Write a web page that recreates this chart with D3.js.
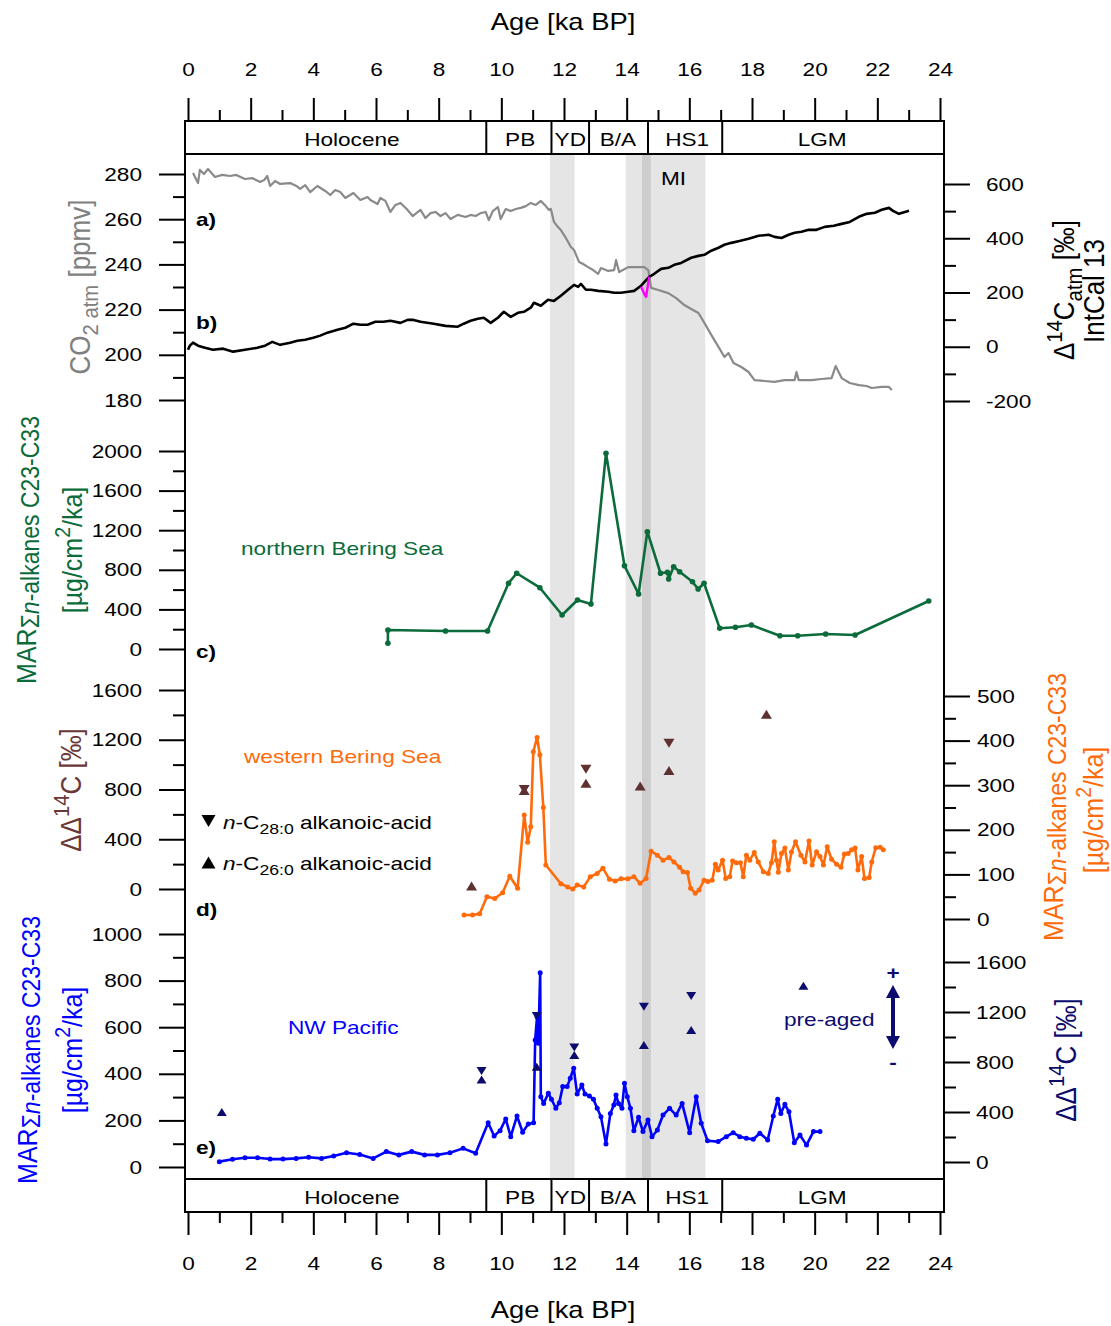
<!DOCTYPE html>
<html>
<head>
<meta charset="utf-8">
<script src="https://cdn.jsdelivr.net/npm/d3@7"></script>
<style>
	body { margin: 0; background: #fff; }
	svg { display: block; font-family: "Liberation Sans", Arial, sans-serif; }
</style>
</head>
<body>
<div id="chart"></div>
<script>
// ---- data (age in ka BP, value) ----
const co2 = [[0.16,280.4],[0.32,276],[0.38,281.8],[0.51,280],[0.64,282.2],[0.86,278.7],[1.09,279.6],[1.34,279.1],[1.54,279.6],[1.82,277.8],[2.05,278.2],[2.3,276.5],[2.43,277.3],[2.53,279.1],[2.62,274.7],[2.78,276.9],[2.94,275.6],[3.26,276],[3.46,274.7],[3.58,273.4],[3.74,275.1],[3.9,272],[4.13,274.7],[4.38,272.5],[4.54,270.7],[4.7,272.9],[4.86,272],[5.02,269.4],[5.28,271.6],[5.5,268.5],[5.73,269.8],[5.82,268.5],[6.05,266.7],[6.14,269.4],[6.3,268.1],[6.46,263.2],[6.62,266.3],[6.78,267.2],[6.98,264.5],[7.17,261.4],[7.42,264.1],[7.58,260.5],[7.74,262.7],[7.9,263.2],[8.06,261.4],[8.22,262.7],[8.38,260.1],[8.61,261.9],[8.86,261],[9.02,261.9],[9.18,261.4],[9.34,262.7],[9.5,263.2],[9.6,259.6],[9.73,263.6],[9.89,265.4],[9.98,260.1],[10.14,264.5],[10.3,263.6],[10.46,264.5],[10.62,265],[10.78,265.8],[10.94,267.2],[11.1,266.3],[11.26,268.1],[11.42,265.8],[11.52,264.1],[11.58,264.6],[11.68,258.8],[11.78,257],[11.9,255.2],[12.06,251.7],[12.22,247.7],[12.32,246.4],[12.48,241.1],[12.61,240.2],[12.77,238.8],[12.93,237.5],[13.09,235.8],[13.18,238.4],[13.41,237.1],[13.6,237.5],[13.66,241.9],[13.76,236.6],[14.05,238.8],[14.3,238.8],[14.56,238.8],[14.69,237.5],[14.78,229.6],[15.01,228.7],[15.33,227.3],[15.58,225.1],[15.84,222],[16.06,220.3],[16.29,218.5],[16.48,214.1],[16.7,208.8],[16.93,203.5],[17.12,199],[17.25,200.8],[17.41,196.4],[17.66,194.6],[17.89,192.4],[18.08,188.8],[18.4,188.4],[18.72,188],[19.04,188.8],[19.36,188.8],[19.42,192.4],[19.49,188.8],[19.9,188.8],[20.22,189.3],[20.54,189.7],[20.67,195],[20.86,189.7],[21.12,187.5],[21.41,186.6],[21.66,186.2],[21.82,185.3],[22.14,185.8],[22.37,185.8],[22.46,184.4]];

const d14atm = [[0,-11],[0.06,4],[0.16,15],[0.32,4],[0.54,-4],[0.8,-11],[1.12,-7],[1.44,-18],[1.82,-11],[2.21,-4],[2.46,4],[2.69,18],[2.94,7],[3.26,15],[3.49,22],[3.74,26],[4,33],[4.22,41],[4.45,52],[4.77,63],[5.02,70],[5.28,85],[5.5,81],[5.73,81],[5.98,92],[6.24,92],[6.46,96],[6.78,88],[7.01,99],[7.2,99],[7.42,92],[7.84,85],[8.22,77],[8.61,74],[8.8,85],[9.02,96],[9.25,103],[9.44,107],[9.66,88],[9.89,107],[10.08,129],[10.3,110],[10.53,125],[10.72,129],[10.94,144],[11.04,162],[11.26,151],[11.49,173],[11.68,169],[11.9,188],[12.13,210],[12.32,228],[12.45,221],[12.54,232],[12.7,210],[12.86,210],[13.09,206],[13.41,203],[13.6,199],[13.82,199],[14.05,203],[14.24,206],[14.46,225],[14.72,258],[14.88,269],[15.1,287],[15.33,291],[15.52,302],[15.74,309],[16.06,328],[16.29,335],[16.48,339],[16.7,354],[16.93,365],[17.12,376],[17.34,383],[17.6,390],[17.89,398],[18.21,409],[18.53,413],[18.72,405],[18.94,401],[19.17,413],[19.36,420],[19.58,424],[19.81,431],[20.06,431],[20.32,442],[20.61,446],[20.86,453],[21.12,460],[21.41,479],[21.66,490],[21.92,494],[22.14,505],[22.37,512],[22.5,501],[22.69,490],[22.88,497],[23.01,501]];

const d14mi = [[14.46,221],[14.56,195],[14.62,184],[14.72,258]];

const marNorth = [[6.38,58],[6.38,192],[8.22,182],[9.56,182],[10.23,664],[10.49,765],[11.23,619],[11.94,343],[12.43,495],[12.86,455],[13.34,1977],[13.93,841],[14.38,556],[14.66,1185],[15.08,765],[15.3,775],[15.34,707],[15.5,831],[15.69,781],[16.1,680],[16.28,606],[16.47,664],[16.97,209],[17.47,219],[17.98,242],[18.89,134],[19.46,134],[20.35,152],[21.29,141],[23.64,485]];

const marWest = [[8.81,9],[9.08,9],[9.31,12],[9.54,50],[9.79,46],[10.04,59],[10.27,96],[10.52,69],[10.73,233],[10.84,172],[10.94,207],[11.02,375],[11.14,407],[11.23,368],[11.34,250],[11.42,121],[11.9,79],[12.12,72],[12.28,67],[12.42,76],[12.63,72],[12.84,95],[13.06,102],[13.24,114],[13.45,89],[13.63,85],[13.82,90],[14.04,90],[14.23,95],[14.43,80],[14.62,91],[14.78,152],[14.98,143],[15.16,132],[15.35,138],[15.51,128],[15.69,116],[15.8,106],[15.94,104],[16.04,69],[16.19,58],[16.31,65],[16.47,87],[16.59,84],[16.73,87],[16.83,123],[16.92,110],[17.06,132],[17.16,91],[17.29,95],[17.38,130],[17.5,126],[17.63,126],[17.72,95],[17.82,143],[17.93,132],[18.07,149],[18.2,128],[18.36,106],[18.52,102],[18.62,126],[18.71,173],[18.78,132],[18.84,105],[18.94,147],[19.05,159],[19.16,110],[19.26,150],[19.39,173],[19.56,143],[19.69,128],[19.82,175],[19.92,121],[20.06,151],[20.17,140],[20.28,121],[20.4,162],[20.54,134],[20.7,123],[20.84,116],[20.95,146],[21.07,147],[21.18,155],[21.29,159],[21.38,110],[21.5,140],[21.59,91],[21.74,93],[21.82,128],[21.95,160],[22.09,161],[22.19,155]];

const westC28 = [[10.73,800],[12.7,963],[15.35,1172]];
const westC26 = [[9.05,24],[10.73,792],[12.7,850],[14.43,829],[15.35,952],[18.46,1405]];

const marPacific = [[1,23],[1.42,33],[1.82,40],[2.22,40],[2.62,34],[3.03,34],[3.45,37],[3.85,42],[4.26,37],[4.65,47],[5.06,61],[5.48,54],[5.91,37],[6.33,66],[6.73,52],[7.14,66],[7.55,52],[7.96,52],[8.36,61],[8.78,80],[9.18,59],[9.58,190],[9.77,133],[9.96,156],[10.14,206],[10.3,130],[10.5,219],[10.68,149],[10.86,185],[11.03,190],[11.08,545],[11.14,645],[11.18,531],[11.24,834],[11.26,302],[11.35,273],[11.5,316],[11.6,291],[11.74,252],[11.85,276],[11.96,345],[12.1,345],[12.2,381],[12.31,424],[12.42,313],[12.57,352],[12.67,313],[12.81,305],[12.94,291],[13.06,252],[13.18,216],[13.34,99],[13.48,230],[13.59,266],[13.66,309],[13.74,273],[13.85,252],[13.93,359],[14.02,302],[14.12,252],[14.23,156],[14.38,213],[14.52,152],[14.68,202],[14.81,130],[14.98,159],[15.16,223],[15.37,252],[15.58,223],[15.77,273],[16.01,147],[16.22,302],[16.38,188],[16.58,113],[16.92,109],[17.18,130],[17.4,147],[17.61,130],[17.82,123],[18.04,119],[18.25,145],[18.5,116],[18.68,219],[18.82,291],[18.92,230],[19.05,269],[19.18,237],[19.35,104],[19.53,137],[19.74,94],[19.96,152],[20.17,152]];

const pacC28 = [[9.37,728],[11.13,1168],[12.33,916],[14.55,1243],[16.06,1328]];
const pacC26 = [[1.08,400],[9.37,660],[11.13,762],[12.33,856],[14.55,936],[16.06,1056],[19.64,1411]];

// climate periods: boundaries, names and label positions (ka)
const periodEdges = [9.52, 11.6, 12.8, 14.68, 17.05];
const periodNames = ["Holocene", "PB", "YD", "B/A", "HS1", "LGM"];
const periodLabelAge = [5.23, 10.6, 12.2, 13.72, 15.93, 20.24];
// shaded intervals [start, end]
const lightBands = [[11.55, 12.34], [13.97, 16.51]];
const miBand = [14.49, 14.77];

const ageMajor = d3.range(0, 25, 2);
const ageMinor = d3.range(1, 24, 2);

// ---- layout ----
const width = 1111, height = 1326;
const L = 185, R = 944;
const SX = 1.19, F = 19;

const svg = d3.select("#chart").append("svg")
	.attr("width", width)
	.attr("height", height);

const x = d3.scaleLinear().domain([0, 24]).range([188, 940]);

const yCO2 = d3.scaleLinear().domain([180, 280]).range([400, 174]);
const yAtm = d3.scaleLinear().domain([-200, 600]).range([401, 184]);
const yNorth = d3.scaleLinear().domain([0, 2000]).range([649, 451]);
const yDDd = d3.scaleLinear().domain([0, 1600]).range([889, 690]);
const yWest = d3.scaleLinear().domain([0, 500]).range([919, 696]);
const yPac = d3.scaleLinear().domain([0, 1000]).range([1167, 934]);
const yDDe = d3.scaleLinear().domain([0, 1600]).range([1162, 962]);

// ---- text helpers ----
function rich(t, parts, size) {
	let off = 0;
	parts.forEach(([s, st]) => {
		st = st || "";
		let shift = 0, fs = size;
		if (st.startsWith("sub")) { shift = size * 0.28; fs = size * 0.78; }
		else if (st.startsWith("sup")) { shift = -size * 0.42; fs = size * 0.78; }
		else if (st.startsWith("m")) { shift = size * 0.12; fs = size * 0.92; }
		const ts = t.append("tspan").text(s).attr("dy", shift - off).attr("font-size", fs);
		if (st.endsWith("i")) ts.attr("font-style", "italic");
		off = shift;
	});
	return t;
}

function htext(px, py, parts, opts = {}) {
	const size = opts.size || F;
	const t = svg.append("text")
		.attr("transform", `translate(${px},${py}) scale(${SX},1)`)
		.attr("font-size", size)
		.attr("fill", opts.fill || "#000")
		.attr("text-anchor", opts.anchor || "start");
	if (opts.bold) t.attr("font-weight", "bold");
	return rich(t, parts, size);
}

function vtext(px, py, parts, size, fill) {
	const t = svg.append("text")
		.attr("transform", `translate(${px},${py}) rotate(-90) scale(1,1.12)`)
		.attr("font-size", size)
		.attr("fill", fill)
		.attr("text-anchor", "middle");
	return rich(t, parts, size);
}

function styleAxis(g) {
	g.select(".domain").remove();
	g.selectAll("line").attr("stroke", "#000").attr("stroke-width", 2);
	g.selectAll("text")
		.attr("font-family", "'Liberation Sans', Arial, sans-serif")
		.attr("font-size", F)
		.attr("fill", "#000")
		.each(function () {
			const s = d3.select(this);
			const tx = +s.attr("x") || 0;
			s.attr("x", tx / SX).attr("transform", `scale(${SX},1)`);
		});
}

function yAxis(scale, major, minor, side, pad) {
	const axis = side === "left" ? d3.axisLeft : d3.axisRight;
	const pos = side === "left" ? L : R;
	svg.append("g")
		.attr("transform", `translate(${pos},0)`)
		.call(axis(scale).tickValues(minor).tickSize(12).tickFormat(""))
		.call(styleAxis);
	svg.append("g")
		.attr("transform", `translate(${pos},0)`)
		.call(axis(scale).tickValues(major).tickSize(26).tickPadding(pad).tickFormat((d) => String(d)))
		.call(styleAxis);
}

// ---- shading ----
lightBands.forEach((b) => {
	svg.append("rect")
		.attr("x", x(b[0])).attr("y", 154)
		.attr("width", x(b[1]) - x(b[0])).attr("height", 1179 - 154)
		.attr("fill", "#e5e5e5");
});
svg.append("rect")
	.attr("x", x(miBand[0])).attr("y", 154)
	.attr("width", x(miBand[1]) - x(miBand[0])).attr("height", 1179 - 154)
	.attr("fill", "#cdcdcd");

// ---- frames & period boxes ----
[[121, 33], [154, 1025], [1179, 33]].forEach(([top, h]) => {
	svg.append("rect")
		.attr("x", L).attr("y", top).attr("width", R - L).attr("height", h)
		.attr("fill", "none").attr("stroke", "#000").attr("stroke-width", 2);
});

[[121, 146], [1179, 1204]].forEach(([top, base]) => {
	periodEdges.forEach((e) => {
		svg.append("line")
			.attr("x1", x(e)).attr("x2", x(e))
			.attr("y1", top).attr("y2", top + 33)
			.attr("stroke", "#000").attr("stroke-width", 2);
	});
	periodNames.forEach((name, i) => {
		htext(x(periodLabelAge[i]), base, [[name]], { anchor: "middle" });
	});
});

// ---- age axes ----
svg.append("g").attr("transform", "translate(0,121)")
	.call(d3.axisTop(x).tickValues(ageMinor).tickSize(11).tickFormat("")).call(styleAxis);
svg.append("g").attr("transform", "translate(0,121)")
	.call(d3.axisTop(x).tickValues(ageMajor).tickSize(23).tickPadding(22)).call(styleAxis);
svg.append("g").attr("transform", "translate(0,1212)")
	.call(d3.axisBottom(x).tickValues(ageMinor).tickSize(11).tickFormat("")).call(styleAxis);
svg.append("g").attr("transform", "translate(0,1212)")
	.call(d3.axisBottom(x).tickValues(ageMajor).tickSize(23).tickPadding(22)).call(styleAxis);

htext(563, 30, [["Age [ka BP]"]], { anchor: "middle", size: 23 });
htext(563, 1318, [["Age [ka BP]"]], { anchor: "middle", size: 23 });

// ---- y axes ----
yAxis(yCO2, d3.range(180, 281, 20), d3.range(190, 280, 20), "left", 17);
yAxis(yAtm, d3.range(-200, 601, 200), d3.range(-100, 600, 200), "right", 16);
yAxis(yNorth, d3.range(0, 2001, 400), d3.range(200, 2000, 400), "left", 17);
yAxis(yDDd, d3.range(0, 1601, 400), d3.range(200, 1600, 400), "left", 17);
yAxis(yWest, d3.range(0, 501, 100), d3.range(50, 500, 100), "right", 7);
yAxis(yPac, d3.range(0, 1001, 200), d3.range(100, 1000, 200), "left", 17);
yAxis(yDDe, d3.range(0, 1601, 400), d3.range(200, 1600, 400), "right", 6);

// ---- axis titles ----
const marParts = [["MAR"], ["Σ", "m"], ["n", "mi"], ["-alkanes C23-C33", "m"]];
const unitParts = [["[µg/cm"], ["2", "sup"], ["/ka]"]];
const ddParts = [["ΔΔ"], ["14", "sup"], ["C [‰]"]];

vtext(90, 287, [["CO"], ["2 atm", "sub"], [" [ppmv]"]], 26, "#808080");
vtext(36, 550, marParts, 25, "#0b6b3a");
vtext(82, 550, unitParts, 25, "#0b6b3a");
vtext(81, 790, ddParts, 26, "#6b3838");
vtext(37, 1050, marParts, 25, "#0000ff");
vtext(82, 1050, unitParts, 25, "#0000ff");

vtext(1074, 290, [["Δ"], ["14", "sup"], ["C"], ["atm", "sub"], [" [‰]"]], 26, "#000");
vtext(1104, 291, [["IntCal 13"]], 26, "#000");
vtext(1063, 807, marParts, 25, "#ff6a0a");
vtext(1103, 810, unitParts, 25, "#ff6a0a");
vtext(1076, 1060, ddParts, 26, "#0c0c6e");

// ---- series ----
function drawLine(data, ys, color, w) {
	svg.append("path")
		.datum(data)
		.attr("fill", "none")
		.attr("stroke", color)
		.attr("stroke-width", w)
		.attr("stroke-linejoin", "round")
		.attr("d", d3.line().x((d) => x(d[0])).y((d) => ys(d[1])));
}
function drawDots(data, ys, color, r) {
	svg.append("g").selectAll("circle")
		.data(data)
		.join("circle")
		.attr("cx", (d) => x(d[0]))
		.attr("cy", (d) => ys(d[1]))
		.attr("r", r)
		.attr("fill", color);
}
function tri(w, h, down) {
	return down
		? `M${-w / 2},${-h / 2}L${w / 2},${-h / 2}L0,${h / 2}Z`
		: `M0,${-h / 2}L${w / 2},${h / 2}L${-w / 2},${h / 2}Z`;
}
function drawTris(data, ys, color, down, w, h) {
	svg.append("g").selectAll("path")
		.data(data)
		.join("path")
		.attr("transform", (d) => `translate(${x(d[0])},${ys(d[1])})`)
		.attr("d", tri(w, h, down))
		.attr("fill", color);
}

// a) CO2 and b) atmospheric D14C
drawLine(co2, yCO2, "#8a8a8a", 2.2);
drawLine(d14atm, yAtm, "#000", 2.6);
drawLine(d14mi, yAtm, "#ff00ff", 2.4);

// c) northern Bering Sea
drawLine(marNorth, yNorth, "#0b6b3a", 2.6);
drawDots(marNorth, yNorth, "#0b6b3a", 2.8);

// d) western Bering Sea
drawLine(marWest, yWest, "#ff6a0a", 2.6);
drawDots(marWest, yWest, "#ff6a0a", 2.5);
drawTris(westC28, yDDd, "#5e3030", true, 11, 9);
drawTris(westC26, yDDd, "#5e3030", false, 11, 9);

// e) NW Pacific
drawLine(marPacific, yPac, "#0000ff", 2.6);
drawDots(marPacific, yPac, "#0000ff", 2.5);
drawTris(pacC28, yDDe, "#0c0c6e", true, 10, 8);
drawTris(pacC26, yDDe, "#0c0c6e", false, 10, 8);

// ---- panel letters & annotations ----
[["a)", 226], ["b)", 329], ["c)", 658], ["d)", 916], ["e)", 1154]].forEach(([s, py]) => {
	htext(196, py, [[s]], { bold: true });
});
htext(661, 185, [["MI"]]);
htext(241, 555, [["northern Bering Sea"]], { fill: "#0b6b3a" });
htext(244, 763, [["western Bering Sea"]], { fill: "#ff6a0a" });
htext(288, 1034, [["NW Pacific"]], { fill: "#0000ff" });
htext(784, 1026, [["pre-aged"]], { fill: "#0c0c6e" });

// legend
svg.append("path").attr("transform", "translate(208.5,821)").attr("d", tri(14, 12, true)).attr("fill", "#000");
svg.append("path").attr("transform", "translate(208.5,862.5)").attr("d", tri(14, 12, false)).attr("fill", "#000");
htext(223, 829, [["n", "i"], ["-C"], ["28:0", "sub"], [" alkanoic-acid"]]);
htext(223, 870, [["n", "i"], ["-C"], ["26:0", "sub"], [" alkanoic-acid"]]);

// pre-aged arrow
const ax = 893;
svg.append("line").attr("x1", ax).attr("x2", ax).attr("y1", 994).attr("y2", 1040)
	.attr("stroke", "#0c0c6e").attr("stroke-width", 4);
svg.append("path").attr("d", `M${ax},985L${ax + 7},998L${ax - 7},998Z`).attr("fill", "#0c0c6e");
svg.append("path").attr("d", `M${ax},1049L${ax + 7},1036L${ax - 7},1036Z`).attr("fill", "#0c0c6e");
htext(ax, 979, [["+"]], { anchor: "middle", bold: true, fill: "#0c0c6e" });
htext(ax, 1069, [["-"]], { anchor: "middle", bold: true, fill: "#0c0c6e" });
</script>
</body>
</html>
